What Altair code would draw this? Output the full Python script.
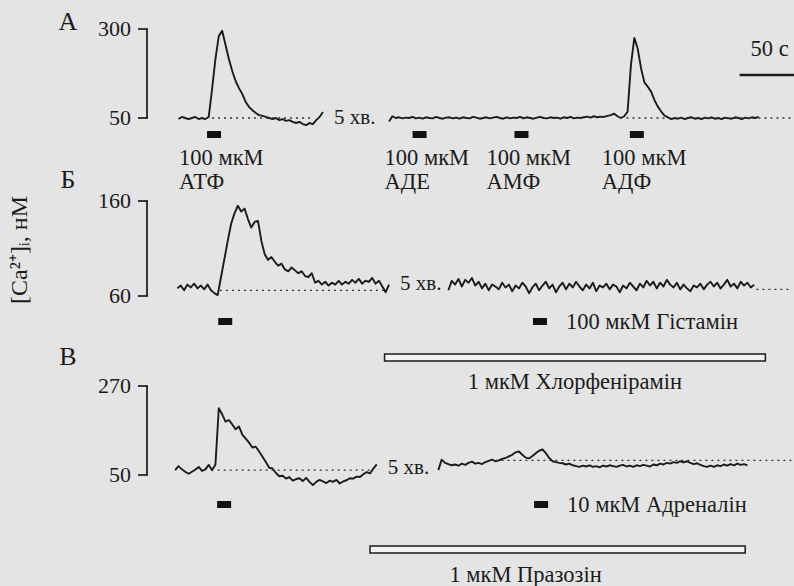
import altair as alt
import pandas as pd

SERIF = "Liberation Serif"
INK = "#1b1b1b"
BG = "#e4e4e4"

# ---------------- data ----------------
DT = 3  # seconds between samples

CAL = {"А": [50, 300], "Б": [60, 160], "В": [50, 270]}

A1_T0 = 29
A1 = [47, 53, 50, 47, 50, 53, 47, 50, 47, 53, 131, 216, 280, 295, 255, 216, 182, 154, 134, 117,
      95, 81, 72, 64, 58, 56, 53, 50, 47, 50, 44, 47, 42, 44, 39, 36, 39, 33, 30, 36,
      33, 44, 53, 67]
A2_T0 = 217
A2 = [40, 55, 50, 52, 49, 51, 50, 53, 49, 51,
      48, 52, 50, 49, 53, 50, 48, 51, 52, 49,
      51, 48, 52, 50, 49, 53, 51, 48, 50, 52,
      49, 51, 53, 50, 48, 52, 49, 51, 50, 53,
      49, 52, 50, 48, 51, 53, 50, 49, 52, 50,
      51, 48, 52, 50, 53, 49, 51, 50, 52, 54,
      51, 55, 52, 54, 53, 56, 58, 62, 55, 50,
      55, 68, 200, 275, 245, 190, 150, 138, 124, 100,
      82, 68, 57, 52, 47, 50, 48, 51, 47, 50,
      52, 48, 50, 47, 51, 49, 52, 48, 50, 47,
      51, 49, 48, 52, 50, 47, 51, 49, 52, 50, 53]

B1_T0 = 28
B1 = [68, 71, 66, 72, 69, 73, 68, 71, 67, 72, 66, 63, 61, 80, 99, 118, 136, 147, 155, 149,
      152, 141, 132, 138, 139, 118, 104, 98, 101, 96, 92, 94, 88, 86, 90, 87, 84, 86, 81, 80,
      84, 74, 76, 72, 75, 71, 74, 72, 76, 72, 75, 73, 77, 74, 78, 73, 76, 75, 79, 73,
      76, 70, 64, 72]
B2_T0 = 270
B2 = [66, 76, 72, 78, 70, 77, 74, 79, 71, 75,
      68, 73, 66, 72, 70, 67, 74, 69, 72, 65,
      71, 68, 74, 70, 63, 69, 73, 66, 71, 75,
      68, 72, 64, 70, 74, 67, 73, 69, 75, 70,
      66, 72, 68, 74, 65, 71, 69, 73, 67, 72,
      70, 64, 71, 68, 74, 70, 66, 73, 69, 76,
      71, 75, 68, 74, 70, 77, 72, 69, 74, 67,
      72, 68, 65, 71, 69, 73, 67, 72, 75, 70,
      74, 68, 72, 77, 70, 73, 68, 75, 71, 74, 69, 72]

C1_T0 = 26
C1 = [62, 72, 64, 58, 53, 58, 63, 70, 60, 64, 75, 62, 76, 215, 200, 182, 186, 175, 163, 170,
      150, 140, 130, 118, 120, 108, 95, 82, 68, 66, 55, 47, 48, 41, 45, 36, 40, 42, 35, 43,
      33, 25, 33, 38, 34, 30, 36, 33, 38, 29, 34, 37, 42, 41, 46, 45, 52, 57, 54, 66, 76]
C2_T0 = 261
C2 = [62, 88, 80, 77, 74, 76, 73, 78, 75, 80,
      83, 78, 80, 77, 82, 85, 88, 84, 86, 90,
      92, 96, 100, 106, 108, 100, 93, 91, 97, 104,
      110, 113, 104, 92, 84, 82, 80, 79, 76, 78,
      74, 72, 70, 73, 71, 74, 70, 72, 69, 73,
      71, 74, 72, 70, 73, 75, 71, 73, 70, 74,
      72, 75, 73, 71, 76, 74, 78, 76, 80, 78,
      82, 80, 84, 81, 84, 80, 77, 79, 75, 72,
      70, 73, 70, 74, 72, 76, 73, 77, 74, 78,
      75, 77, 74]

# dotted baselines: (start s, end s, level nM)
BASE_A = [(59, 149, 50), (429, 578, 50)]
BASE_B = [(66, 216, 66), (545, 574, 67)]
BASE_C = [(64, 200, 62), (312, 577, 86)]

STIM_DUR = 12.5
STIM_A = [54.5, 238, 329, 432]
STIM_A_DOSE = ["100 мкМ", "100 мкМ", "100 мкМ", "100 мкМ"]
STIM_A_NAME = ["АТФ", "АДЕ", "АМФ", "АДФ"]
STIM_B = [64.5, 345.5]
STIM_B_TEXT = "100 мкМ Гістамін"
STIM_C = [63.5, 346.5]
STIM_C_TEXT = "10 мкМ Адреналін"
BLOCK_B = [213, 553]
BLOCK_B_TEXT = "1 мкМ Хлорфенірамін"
BLOCK_C = [200, 535]
BLOCK_C_TEXT = "1 мкМ Празозін"
SCALE_BAR = [530, 580]
SCALE_TEXT = "50 с"
BREAK_TEXT = "5 хв."
Y_TITLE = "[Ca²⁺]ᵢ, нМ"

# ---------------- layout ----------------
W, H = 794, 586
PX_PER_S = 1.12
X0 = 146
XDOM = [-X0 / PX_PER_S, (W - X0) / PX_PER_S]
PIX = {"А": (118, 29), "Б": (296, 201), "В": (475, 386)}
FS = 22.5


def ydom(cal, pix):
    lo, hi = cal
    plo, phi = pix
    s = (hi - lo) / (plo - phi)
    return [lo - (H - plo) * s, lo + plo * s]


YDOM = {p: ydom(CAL[p], PIX[p]) for p in CAL}


def X(field="t"):
    return alt.X(f"{field}:Q", scale=alt.Scale(domain=XDOM, nice=False, zero=False), axis=None)


def Y(p, field="v"):
    return alt.Y(f"{field}:Q", scale=alt.Scale(domain=YDOM[p], nice=False, zero=False), axis=None)


def txt(size=FS, **kw):
    return dict(font=SERIF, fontSize=size, color=INK, **kw)


def panel(p, segs, base, stim, stim_px, break_px):
    rows = []
    for k, (t0, vals) in enumerate(segs):
        for i, v in enumerate(vals):
            rows.append({"t": t0 + i * DT, "v": v, "seg": k})
    tr = pd.DataFrame(rows)
    layers = [
        alt.Chart(tr).mark_line(color=INK, strokeWidth=1.9, strokeJoin="round").encode(
            x=X(), y=Y(p), detail="seg:N"),
        alt.Chart(pd.DataFrame(base, columns=["t", "t2", "v"])).mark_rule(
            color="#333333", strokeDash=[2, 4], strokeWidth=1.3).encode(
            x=X(), x2="t2:Q", y=Y(p)),
        alt.Chart(pd.DataFrame({"lo": [CAL[p][0]], "hi": [CAL[p][1]]})).mark_rule(
            color=INK, strokeWidth=1.7).encode(x=alt.value(147), y=Y(p, "lo"), y2="hi:Q"),
        alt.Chart(pd.DataFrame({"v": CAL[p]})).mark_rule(color=INK, strokeWidth=1.7).encode(
            x=alt.value(138), x2=alt.value(148), y=Y(p)),
        alt.Chart(pd.DataFrame({"v": CAL[p], "lab": [str(c) for c in CAL[p]]})).mark_text(
            align="right", baseline="middle", **txt(22)).encode(
            x=alt.value(131), y=Y(p), text="lab:N"),
        alt.Chart(pd.DataFrame({"t": stim, "t2": [s + STIM_DUR for s in stim]})).mark_rect(
            color="#111111").encode(x=X(), x2="t2:Q", y=alt.value(stim_px[0]), y2=alt.value(stim_px[1])),
        alt.Chart(pd.DataFrame({"t": [segs[0][0] + (len(segs[0][1]) - 1) * DT], "s": [BREAK_TEXT]})).mark_text(
            align="left", baseline="middle", dx=11, **txt(21)).encode(
            x=X(), y=alt.value(break_px), text="s:N"),
    ]
    return layers


# Panel A
la = panel("А", [(A1_T0, A1), (A2_T0, A2)], BASE_A, STIM_A, (131, 138), 118)
sa = pd.DataFrame({"t": STIM_A, "dose": STIM_A_DOSE, "name": STIM_A_NAME})
la += [
    alt.Chart(sa).mark_text(align="left", baseline="middle", dx=-28, **txt()).encode(
        x=X(), y=alt.value(158), text="dose:N"),
    alt.Chart(sa).mark_text(align="left", baseline="middle", dx=-28, **txt()).encode(
        x=X(), y=alt.value(182), text="name:N"),
    alt.Chart(pd.DataFrame({"t": [SCALE_BAR[0]], "t2": [SCALE_BAR[1]]})).mark_rule(
        color=INK, strokeWidth=2.6).encode(x=X(), x2="t2:Q", y=alt.value(75)),
    alt.Chart(pd.DataFrame({"t": [sum(SCALE_BAR) / 2], "s": [SCALE_TEXT]})).mark_text(
        align="center", baseline="middle", dx=2, **txt()).encode(
        x=X(), y=alt.value(49), text="s:N"),
]
panelA = alt.layer(*la)

# Panel B
lb = panel("Б", [(B1_T0, B1), (B2_T0, B2)], BASE_B, STIM_B, (318, 325), 284)
lb += [
    alt.Chart(pd.DataFrame({"t": [STIM_B[-1] + STIM_DUR], "s": [STIM_B_TEXT]})).mark_text(
        align="left", baseline="middle", dx=19, **txt()).encode(
        x=X(), y=alt.value(322), text="s:N"),
    alt.Chart(pd.DataFrame({"t": [BLOCK_B[0]], "t2": [BLOCK_B[1]]})).mark_rect(
        fill="#f3f3f3", stroke=INK, strokeWidth=1.5).encode(
        x=X(), x2="t2:Q", y=alt.value(354), y2=alt.value(361)),
    alt.Chart(pd.DataFrame({"t": [sum(BLOCK_B) / 2], "s": [BLOCK_B_TEXT]})).mark_text(
        align="center", baseline="middle", dx=0, **txt()).encode(
        x=X(), y=alt.value(382), text="s:N"),
]
panelB = alt.layer(*lb)

# Panel C
lc = panel("В", [(C1_T0, C1), (C2_T0, C2)], BASE_C, STIM_C, (501, 508), 468)
lc += [
    alt.Chart(pd.DataFrame({"t": [STIM_C[-1] + STIM_DUR], "s": [STIM_C_TEXT]})).mark_text(
        align="left", baseline="middle", dx=19, **txt()).encode(
        x=X(), y=alt.value(505), text="s:N"),
    alt.Chart(pd.DataFrame({"t": [BLOCK_C[0]], "t2": [BLOCK_C[1]]})).mark_rect(
        fill="#f3f3f3", stroke=INK, strokeWidth=1.5).encode(
        x=X(), x2="t2:Q", y=alt.value(546), y2=alt.value(553)),
    alt.Chart(pd.DataFrame({"t": [sum(BLOCK_C) / 2], "s": [BLOCK_C_TEXT]})).mark_text(
        align="center", baseline="middle", dx=-32, **txt()).encode(
        x=X(), y=alt.value(575), text="s:N"),
]
panelC = alt.layer(*lc)

# Panel letters and the y title
letters = alt.Chart(pd.DataFrame({"s": list(CAL.keys()), "py": [22, 180, 357]})).mark_text(
    align="center", baseline="middle", **txt(26)).encode(
    x=alt.value(68), y=alt.Y("py:Q", scale=None), text="s:N")
ytitle = alt.Chart(pd.DataFrame({"s": [Y_TITLE]})).mark_text(
    align="center", baseline="middle", angle=270, **txt(24)).encode(
    x=alt.value(20), y=alt.value(250), text="s:N")

chart = alt.layer(panelA, panelB, panelC, letters, ytitle).resolve_scale(y="independent").properties(
    width=W, height=H, autosize=alt.AutoSizeParams(type="none"), padding=0, background=BG
).configure_view(stroke=None)

chart.save("out.html", embed_options={"renderer": "svg", "actions": False})
